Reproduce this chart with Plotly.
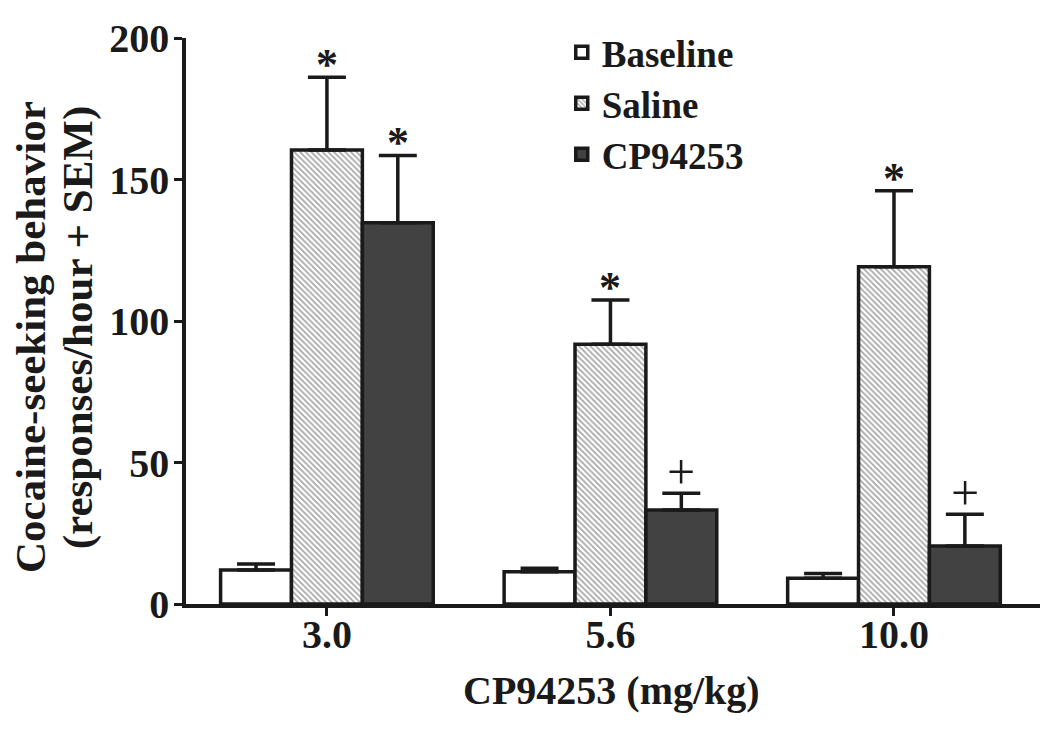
import plotly.graph_objects as go

doses = ["3.0", "5.6", "10.0"]
series_names = ["Baseline", "Saline", "CP94253"]
baseline_mean = [12.0, 11.4, 9.1]
baseline_sem = [2.1, 1.2, 1.7]
saline_mean = [160.4, 91.8, 119.2]
saline_sem = [25.7, 15.6, 26.8]
cp_mean = [134.7, 33.2, 20.5]
cp_sem = [23.8, 5.9, 11.2]
baseline_marks = ["", "", ""]
saline_marks = ["*", "*", "*"]
cp_marks = ["*", "+", "+"]
y_ticks = [0, 50, 100, 150, 200]

FONT = "Liberation Serif"
BLACK = "#1a1a1a"

means = [baseline_mean, saline_mean, cp_mean]
sems = [baseline_sem, saline_sem, cp_sem]
marks = [baseline_marks, saline_marks, cp_marks]
fills = [
    dict(color="white"),
    dict(color="white", pattern=dict(shape="\\", fgcolor="#505050", bgcolor="white", size=4, solidity=0.45)),
    dict(color="#424242"),
]

fig = go.Figure()
for name, m, s, f in zip(series_names, means, sems, fills):
    fig.add_trace(go.Bar(
        name=name, x=doses, y=m,
        marker=dict(color=f["color"], pattern=f.get("pattern"), line=dict(color=BLACK, width=3.5)),
        error_y=dict(type="data", array=s, arrayminus=[0] * len(s), symmetric=False,
                     color=BLACK, thickness=3.5, width=19),
    ))

bar_w = 0.25
offsets = [-bar_w, 0.0, bar_w]
mark_style = {
    "*": dict(size=44, weight="bold", yshift=-14),
    "+": dict(size=50, weight="normal", yshift=-9),
}
annotations = []
for k, (m, s, mk) in enumerate(zip(means, sems, marks)):
    for i, d in enumerate(doses):
        if mk[i]:
            st = mark_style[mk[i]]
            annotations.append(dict(
                x=i + offsets[k], y=m[i] + s[i], xref="x", yref="y", text=mk[i], showarrow=False,
                yanchor="bottom", yshift=st["yshift"],
                font=dict(family=FONT, size=st["size"], color=BLACK, weight=st["weight"]),
            ))

annotations.append(dict(
    x=-0.1827, y=0.4717, xref="paper", yref="paper", textangle=-90, showarrow=False,
    text="Cocaine-seeking behavior", xanchor="center", yanchor="middle",
    font=dict(family=FONT, size=43, color=BLACK, weight="bold"),
))
annotations.append(dict(
    x=-0.1265, y=0.489, xref="paper", yref="paper", textangle=-90, showarrow=False,
    text="(responses/hour + SEM)", xanchor="center", yanchor="middle",
    font=dict(family=FONT, size=43, color=BLACK, weight="bold"),
))
annotations.append(dict(
    x=0.4977, y=-0.152, xref="paper", yref="paper", showarrow=False,
    text="CP94253 (mg/kg)", xanchor="center", yanchor="middle",
    font=dict(family=FONT, size=40, color=BLACK, weight="bold"),
))

fig.update_layout(
    width=1050, height=729,
    margin=dict(l=186, r=10, t=38, b=125),
    paper_bgcolor="white", plot_bgcolor="white",
    barmode="group", bargap=0.25, bargroupgap=0,
    font=dict(family=FONT, size=40, color=BLACK, weight="bold"),
    showlegend=True,
    legend=dict(x=0.44, y=1.029, xanchor="left", yanchor="top",
                font=dict(family=FONT, size=37, color=BLACK, weight="bold"),
                bgcolor="rgba(0,0,0,0)", tracegroupgap=0, itemwidth=30),
    annotations=annotations,
)
fig.update_xaxes(
    type="category",
    range=[-0.497, 2.515], showline=True, linecolor=BLACK, linewidth=3.5,
    ticks="outside", ticklen=8, tickwidth=3, tickcolor=BLACK,
    showgrid=False, zeroline=False, ticklabelstandoff=-16,
    tickfont=dict(family=FONT, size=40, color=BLACK, weight="bold"),
)
fig.update_yaxes(
    range=[0, 200], tickvals=y_ticks, showline=True, linecolor=BLACK, linewidth=3.5,
    ticks="outside", ticklen=8, tickwidth=3, tickcolor=BLACK,
    showgrid=False, zeroline=False, ticklabelstandoff=-3,
    tickfont=dict(family=FONT, size=40, color=BLACK, weight="bold"),
)

fig.write_html("out.html", config={"displayModeBar": False},
               post_script="document.body.style.margin='0px';")
